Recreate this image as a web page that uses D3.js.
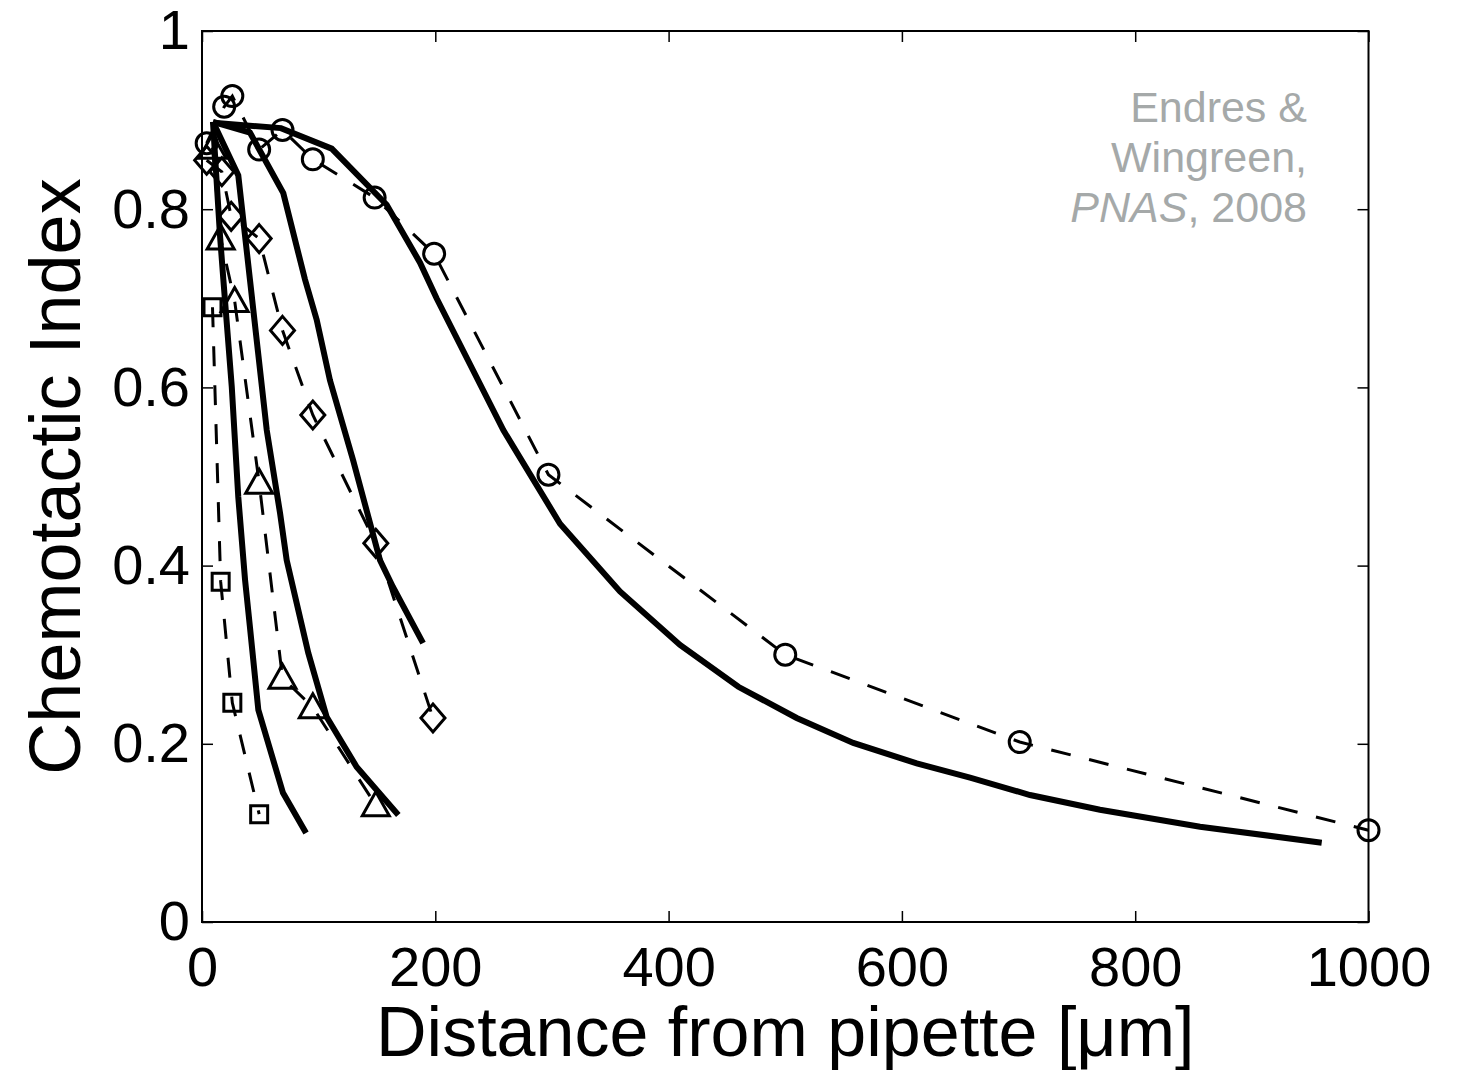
<!DOCTYPE html>
<html>
<head>
<meta charset="utf-8">
<script src="https://cdn.jsdelivr.net/npm/d3@7"></script>
<style>
  body { margin: 0; background: #fff; }
  svg { display: block; font-family: "Liberation Sans", Arial, sans-serif; }
</style>
</head>
<body>
<svg id="chart" width="1463" height="1070"></svg>
<script>
// measured points (dashed, with markers)
const circleX = [4, 19, 26, 49, 69, 95, 148, 199, 297, 500, 701, 1000];
const circleY = [0.874, 0.915, 0.927, 0.867, 0.889, 0.856, 0.813, 0.750, 0.502, 0.300, 0.202, 0.103];

const diamondX = [4, 17, 25, 49, 69, 95, 149, 198];
const diamondY = [0.855, 0.842, 0.792, 0.767, 0.664, 0.569, 0.425, 0.229];

const triangleX = [9, 16, 28, 49, 69, 95, 149];
const triangleY = [0.869, 0.767, 0.697, 0.493, 0.274, 0.241, 0.131];

const squareX = [9, 16, 26, 49];
const squareY = [0.690, 0.382, 0.246, 0.121];

// model curves (solid)
const modelSqX = [9.4, 15.4, 18.3, 25.5, 31.1, 36.9, 41.1, 48.3, 69.4, 89.2];
const modelSqY = [0.898, 0.771, 0.721, 0.601, 0.477, 0.384, 0.331, 0.238, 0.145, 0.100];

const modelTriX = [9.4, 31.1, 41.1, 55.5, 66.9, 72.6, 91.1, 106.9, 132.6, 168.3];
const modelTriY = [0.898, 0.838, 0.721, 0.552, 0.459, 0.406, 0.302, 0.230, 0.174, 0.120];

const modelDiaX = [9.4, 41.1, 69.7, 88.3, 98.3, 109.7, 129.4, 152.6, 163.7, 189.5];
const modelDiaY = [0.898, 0.886, 0.818, 0.721, 0.676, 0.608, 0.519, 0.406, 0.376, 0.313];

const modelCirX = [9.7, 67.7, 111.2, 158.3, 186.9, 201.1, 258.3, 306.9, 358.3, 409.8, 459.8, 509.8, 558.3, 612.7, 658.4, 709.8, 769.8, 855.6, 959.9];
const modelCirY = [0.897, 0.891, 0.868, 0.805, 0.740, 0.700, 0.552, 0.447, 0.371, 0.311, 0.264, 0.229, 0.201, 0.178, 0.162, 0.1425, 0.126, 0.107, 0.089];

const xTicks = [0, 200, 400, 600, 800, 1000];
const yTicks = [0, 0.2, 0.4, 0.6, 0.8, 1];

const svg = d3.select("#chart");
const x = d3.scaleLinear().domain([0, 1000]).range([202, 1368.5]);
const y = d3.scaleLinear().domain([0, 1]).range([922, 31]);

const zip = (xs, ys) => xs.map((v, i) => [v, ys[i]]);
const line = d3.line().x(d => x(d[0])).y(d => y(d[1]));

// model curves
[[modelSqX, modelSqY], [modelTriX, modelTriY], [modelDiaX, modelDiaY], [modelCirX, modelCirY]].forEach(([xs, ys]) => {
  svg.append("path")
    .attr("d", line(zip(xs, ys)))
    .attr("fill", "none")
    .attr("stroke", "#000")
    .attr("stroke-width", 6)
    .attr("stroke-linejoin", "miter");
});

// dashed data lines + markers
const series = [
  {xs: squareX, ys: squareY, sym: "square"},
  {xs: triangleX, ys: triangleY, sym: "triangle"},
  {xs: diamondX, ys: diamondY, sym: "diamond"},
  {xs: circleX, ys: circleY, sym: "circle"}
];

function markerPath(sym) {
  if (sym === "square") return "M-8.5,-8.5H8.5V8.5H-8.5Z";
  if (sym === "triangle") return "M0,-13.5L13.5,10.5H-13.5Z";
  if (sym === "diamond") return "M0,-14L12,0L0,14L-12,0Z";
  return "M10.5,0A10.5,10.5 0 1,1 -10.5,0A10.5,10.5 0 1,1 10.5,0Z";
}

series.forEach(s => {
  const pts = zip(s.xs, s.ys);
  svg.append("path")
    .attr("d", line(pts))
    .attr("fill", "none")
    .attr("stroke", "#000")
    .attr("stroke-width", 3)
    .attr("stroke-dasharray", "20,19");
  svg.append("g").selectAll("path").data(pts).enter().append("path")
    .attr("transform", d => "translate(" + x(d[0]) + "," + y(d[1]) + ")")
    .attr("d", markerPath(s.sym))
    .attr("fill", "none")
    .attr("stroke", "#000")
    .attr("stroke-width", 3);
});

// frame
svg.append("rect")
  .attr("x", x(0)).attr("y", y(1))
  .attr("width", x(1000) - x(0)).attr("height", y(0) - y(1))
  .attr("fill", "none").attr("stroke", "#000").attr("stroke-width", 2);

// axes, ticks pointing inward
const fmtY = d => d === 0 ? "0" : d === 1 ? "1" : d3.format(".1f")(d);
const axB = svg.append("g").attr("transform", "translate(0," + y(0) + ")")
  .call(d3.axisBottom(x).tickValues(xTicks).tickFormat(d3.format("d")).tickSizeInner(-11).tickSizeOuter(0).tickPadding(24));
const axL = svg.append("g").attr("transform", "translate(" + x(0) + ",0)")
  .call(d3.axisLeft(y).tickValues(yTicks).tickFormat(fmtY).tickSizeInner(-11).tickSizeOuter(0).tickPadding(12));
svg.append("g").attr("transform", "translate(0," + y(1) + ")")
  .call(d3.axisTop(x).tickValues(xTicks).tickFormat("").tickSizeInner(-11).tickSizeOuter(0));
svg.append("g").attr("transform", "translate(" + x(1000) + ",0)")
  .call(d3.axisRight(y).tickValues(yTicks).tickFormat("").tickSizeInner(-11).tickSizeOuter(0));

svg.selectAll(".domain").remove();
svg.selectAll(".tick line").attr("stroke", "#000").attr("stroke-width", 1.5);
[axB, axL].forEach(a => a.selectAll("text")
  .attr("fill", "#000")
  .style("font-family", "'Liberation Sans', Arial, sans-serif")
  .style("font-size", "56px"));

// axis titles
svg.append("text")
  .attr("x", (x(0) + x(1000)) / 2)
  .attr("y", 1056)
  .attr("text-anchor", "middle")
  .style("font-size", "70px")
  .text("Distance from pipette [μm]");

svg.append("text")
  .attr("transform", "translate(80," + (y(0) + y(1)) / 2 + ") rotate(-90)")
  .attr("text-anchor", "middle")
  .style("font-size", "72px")
  .text("Chemotactic Index");

// citation note
const note = svg.append("g").attr("fill", "#a5a9a9").style("font-size", "43px").attr("text-anchor", "end");
note.append("text").attr("x", 1307).attr("y", 122).text("Endres &");
note.append("text").attr("x", 1307).attr("y", 172).text("Wingreen,");
const t3 = note.append("text").attr("x", 1307).attr("y", 222);
t3.append("tspan").style("font-style", "italic").text("PNAS");
t3.append("tspan").text(", 2008");
</script>
</body>
</html>
